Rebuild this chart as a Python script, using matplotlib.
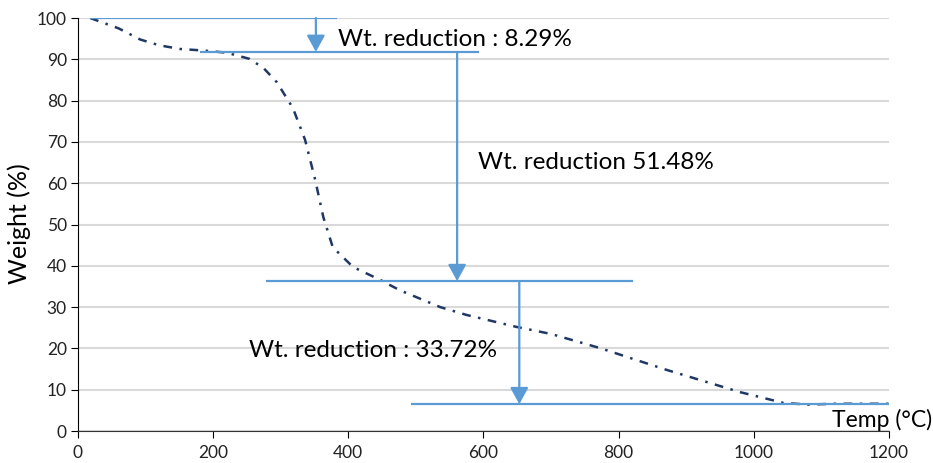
import numpy as np
import matplotlib.pyplot as plt

# TGA curve
temp = [18, 60, 92, 120, 151, 188, 220, 254, 275, 294, 318, 336, 351, 363,
        377, 407, 447, 476, 536, 575, 649, 700, 772, 871, 980, 1044, 1080, 1120, 1200]
weight = [100, 97.5, 94.8, 93.4, 92.5, 92.1, 91.6, 90.1, 87.8, 84.5, 78.2, 70.5, 60.8, 51.8,
          44.5, 39.7, 36.6, 34.1, 30.0, 28.1, 25.2, 23.5, 20.1, 14.8, 9.4, 6.8, 6.4, 6.6, 6.6]

# annotation levels
levels = [100, 91.8, 36.3, 6.5]
level_spans = [(18, 383), (180, 593), (278, 821), (493, 1200)]
arrow_x = [352, 561, 653]
labels = ["Wt. reduction : 8.29%", "Wt. reduction 51.48%", "Wt. reduction : 33.72%"]
label_pos = [(385, 94.7), (592, 65.1), (253, 19.4)]

blue = '#5B9BD5'
font = ['Lato', 'DejaVu Sans']
plt.rcParams['font.family'] = font

fig = plt.figure(figsize=(9.33, 4.63), dpi=100)
ax = fig.add_axes([0.0836, 0.0691, 0.8692, 0.892])

ax.plot(temp, weight, color='#1F3864', lw=1.8, linestyle=(0, (3.5, 3, 1, 3)), zorder=3)

for lev, (a, b) in zip(levels, level_spans):
    ax.plot([a, b], [lev, lev], color=blue, lw=1.6, zorder=4, solid_capstyle='butt')

for i, x in enumerate(arrow_x):
    ax.annotate('', xy=(x, levels[i + 1]), xytext=(x, levels[i]),
                arrowprops=dict(arrowstyle='-|>,head_length=1.0,head_width=0.55',
                                color=blue, lw=1.6, shrinkA=0, shrinkB=0), zorder=4)

for txt, (x, y) in zip(labels, label_pos):
    ax.text(x, y, txt, fontsize=17.5, va='center', ha='left', color='black', zorder=5)

ax.set_xlim(0, 1200)
ax.set_ylim(0, 100)
ax.set_xticks(np.arange(0, 1201, 200))
ax.set_yticks(np.arange(0, 101, 10))
ax.yaxis.grid(True, color='#D9D9D9', lw=1.5)
ax.set_axisbelow(True)
for s in ['top', 'right']:
    ax.spines[s].set_visible(False)
ax.spines['left'].set_color('black')
ax.spines['bottom'].set_color('#333333')
ax.tick_params(axis='both', labelsize=12.5, length=5, direction='out', color='black',
               labelcolor='#222222')
ax.tick_params(axis='x', pad=5)
ax.tick_params(axis='y', pad=3)

fig.text(19 / 933, 1 - 224 / 463, 'Weight (%)', fontsize=18, rotation=90,
         ha='center', va='center')
fig.text(0.999, 0.093, 'Temp (°C)', fontsize=16.5, ha='right', va='center')

fig.savefig('out.png', dpi=100)
